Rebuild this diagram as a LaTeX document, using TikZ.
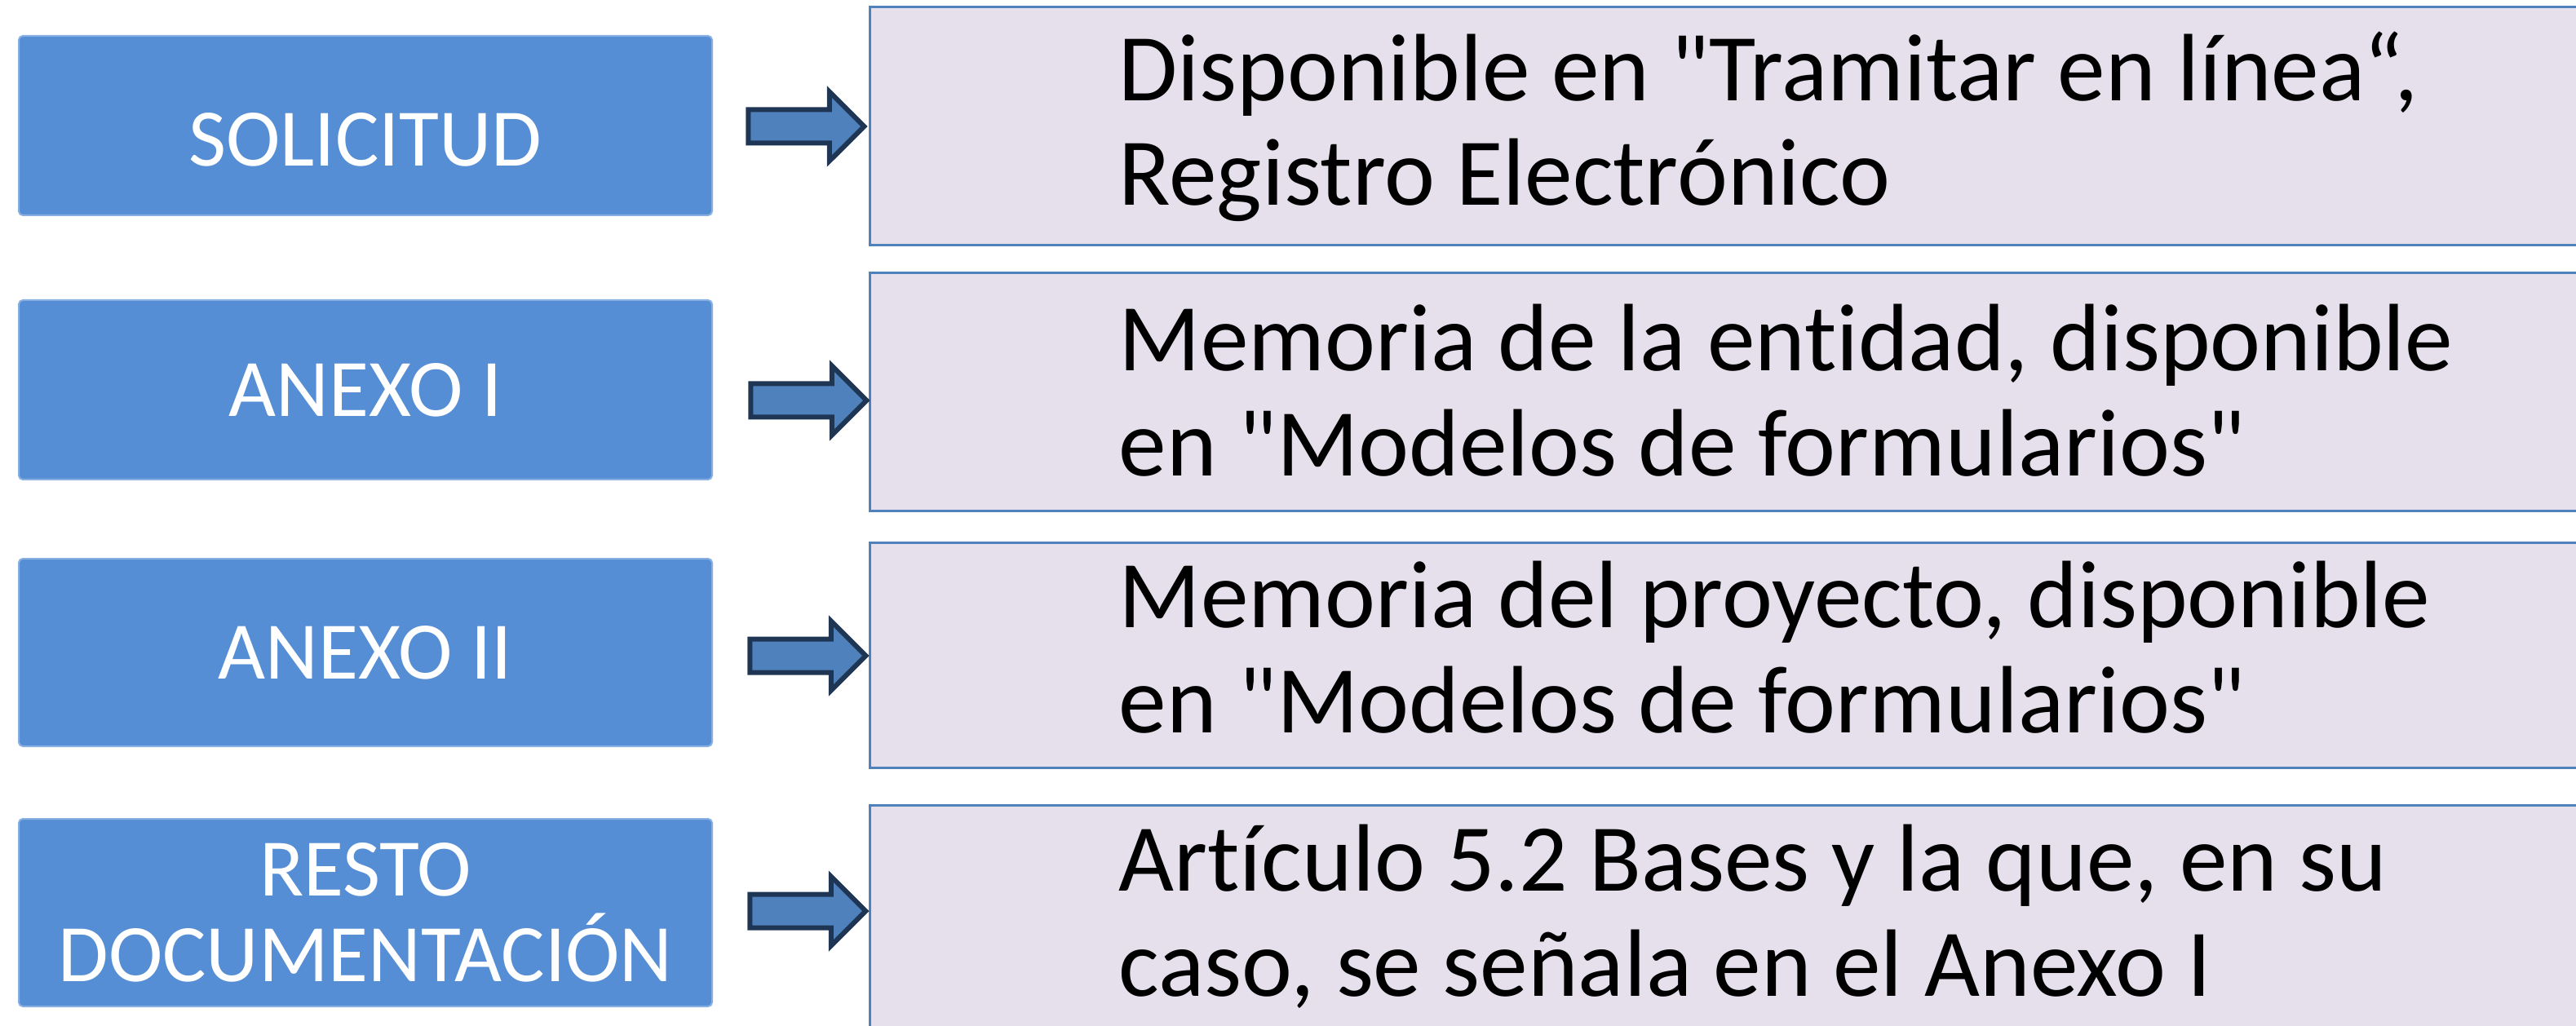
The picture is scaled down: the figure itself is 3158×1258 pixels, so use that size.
\documentclass[tikz,border=0pt]{standalone}
\usepackage{fontspec}
\setmainfont{Carlito}[Ligatures={TeXOff,NoCommon}]
\usetikzlibrary{shapes.arrows, positioning, calc}

\definecolor{boxblue}{RGB}{85,142,213}
\definecolor{arrowblue}{RGB}{79,129,189}
\definecolor{arrowedge}{RGB}{31,53,84}
\definecolor{lavender}{RGB}{229,224,236}
\definecolor{lineblue}{RGB}{79,129,189}

\begin{document}
\begin{tikzpicture}[x=0.1mm, y=-0.1mm,
    docbox/.style={fill=boxblue, draw=boxblue!70!white, line width=0.2mm, rounded corners=0.5mm,
        minimum width=85mm, minimum height=22mm, inner sep=0pt,
        text=white, align=center, font=\fontsize{28.5pt}{30pt}\selectfont},
    infobox/.style={fill=lavender, draw=lineblue, line width=0.3mm, minimum width=211mm, inner sep=0pt},
    infotext/.style={anchor=base west, align=left, inner sep=0pt, font=\fontsize{33.4pt}{36.6pt}\selectfont},
    blockarrow/.style={single arrow, fill=arrowblue, draw=arrowedge, line width=0.6mm,
        minimum height=14.2mm, minimum width=7.9mm, single arrow head extend=2.2mm,
        inner xsep=0pt, inner ysep=1.75mm}
]
    \useasboundingbox (0,0) rectangle (3158,1258);

    % Left column
    \node[docbox] (sol)    at (448,154)  {\rule{0pt}{9.9mm}SOLICITUD};
    \node[docbox] (anexo1) at (448,478)  {ANEXO I};
    \node[docbox, minimum height=23mm] (anexo2) at (448,800)  {ANEXO II};
    \node[docbox, minimum height=23mm] (resto)  at (448,1119) {RESTO\\DOCUMENTACIÓN};

    % Right column
    \node[infobox, minimum height=29.2mm] (info1) at (2121,154.5) {};
    \node[infobox, minimum height=29.2mm] (info2) at (2121,480.5) {};
    \node[infobox, minimum height=27.6mm] (info3) at (2121,803.5) {};
    \node[infobox, minimum height=29.1mm] (info4) at (2121,1133)  {};

    \node[infotext] (txt1) at (1371,252)  {Disponible en "Tramitar en línea“,\\Registro Electrónico};
    \node[infotext] (txt2) at (1371,583)  {Memoria de la entidad, disponible\\en "Modelos de formularios"};
    \node[infotext] (txt3) at (1371,898)  {Memoria del proyecto, disponible\\en "Modelos de formularios"};
    \node[infotext] (txt4) at (1371,1221) {Artículo 5.2 Bases y la que, en su\\caso, se señala en el Anexo I};

    % Arrows
    \node[blockarrow] (arr1) at (978,155)  {};
    \node[blockarrow] (arr2) at (981,491)  {};
    \node[blockarrow] (arr3) at (980,804)  {};
    \node[blockarrow] (arr4) at (980,1117) {};
\end{tikzpicture}
\end{document}
